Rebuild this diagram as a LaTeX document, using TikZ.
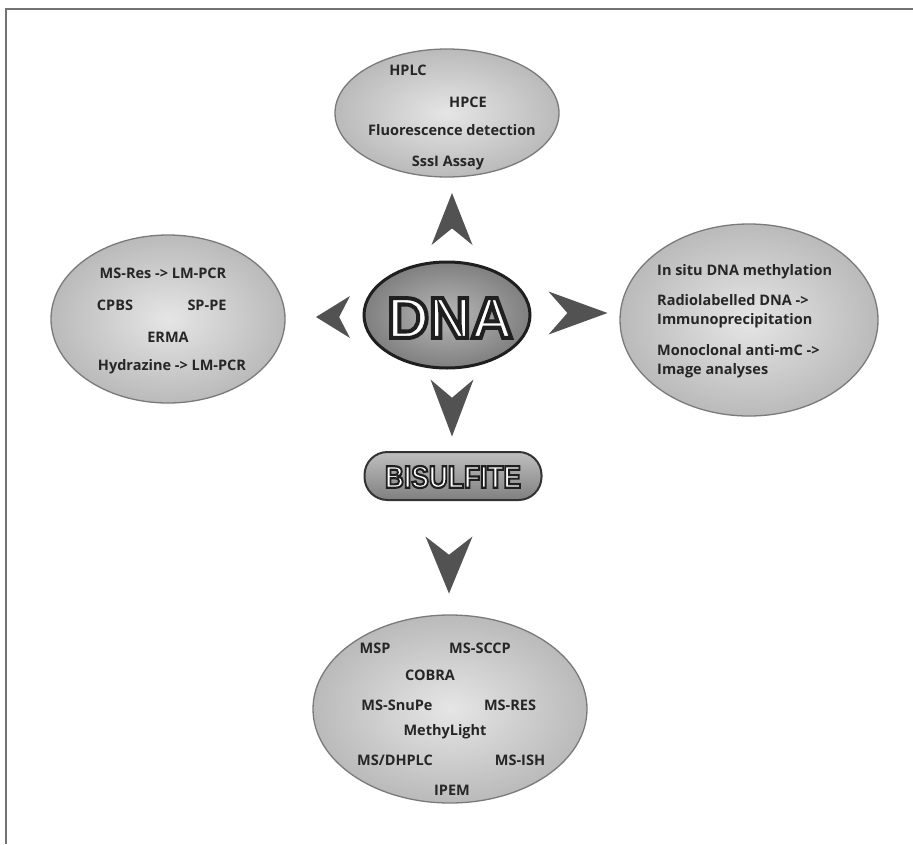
\documentclass[tikz,border=0pt]{standalone}
\usepackage{fontspec}
\setmainfont{Open Sans}
\newfontfamily\logofont{Liberation Sans}
\usetikzlibrary{shapes.geometric}
\newcommand{\outlinedword}[2]{\special{pdf:code q 2 Tr #1 w 0.12 G}#2\special{pdf:code Q}}
\tikzset{
  frameline/.style={draw=black!55, line width=1.4pt},
  bubble/.style={ellipse, draw=black!52, line width=1.3pt, inner sep=0pt,
     inner color=black!10, outer color=black!27},
  lbl/.style={font=\bfseries\fontsize{14.5}{16}\selectfont, text=black!85, inner sep=1pt},
  lblL/.style={lbl, anchor=west},
  chevfill/.style={fill=black!68},
  chev/.pic={\fill[chevfill] (0.5,0) -- (-0.5,-0.5) -- (-0.18,0) -- (-0.5,0.5) -- cycle;},
  dnabox/.style={ellipse, draw=black!88, line width=3pt, inner sep=0pt,
     inner color=black!28, outer color=black!50},
  pill/.style={rectangle, rounded corners=23pt, draw=black!80, line width=2pt, inner sep=0pt,
     top color=black!25, bottom color=black!50},
  dnatext/.style={font=\logofont\bfseries\fontsize{58}{58}\selectfont, inner sep=0pt, text=white},
  bistext/.style={font=\logofont\bfseries\fontsize{31}{31}\selectfont, inner sep=0pt, text=white},
}
\begin{document}
\begin{tikzpicture}[x=1pt,y=-1pt]
\useasboundingbox (0,0) rectangle (913,844);
\fill[white] (0,0) rectangle (913,844);
% frame
\coordinate (fTL) at (6,9);
\coordinate (fTR) at (913,9);
\coordinate (fBL) at (6,844);
\draw[frameline] (fTR) -- (fTL) -- (fBL);

% bubbles
\node[bubble, minimum width=224pt, minimum height=128pt] (top) at (447,113) {};
\node[bubble, minimum width=234pt, minimum height=168pt] (left) at (168,319) {};
\node[bubble, minimum width=258pt, minimum height=192pt] (right) at (749,320) {};
\node[bubble, minimum width=274pt, minimum height=188pt] (bottom) at (450,709) {};

% top texts
\node[lbl] (t1) at (408,70) {HPLC};
\node[lbl] (t2) at (468,102) {HPCE};
\node[lbl] (t3) at (452,130) {Fluorescence detection};
\node[lbl] (t4) at (448,163) {SssI Assay};

% left texts
\node[lbl] (l1) at (163,273) {MS-Res -> LM-PCR};
\node[lbl] (l2) at (115,305) {CPBS};
\node[lbl] (l3) at (207,305) {SP-PE};
\node[lbl] (l4) at (168,337) {ERMA};
\node[lbl] (l5) at (172,367) {Hydrazine -> LM-PCR};

% right texts
\node[lblL] (r1) at (656,272) {In situ DNA methylation};
\node[lblL] (r2) at (656,300) {Radiolabelled DNA ->};
\node[lblL] (r3) at (656,321) {Immunoprecipitation};
\node[lblL] (r4) at (656,350) {Monoclonal anti-mC ->};
\node[lblL] (r5) at (656,371) {Image analyses};

% bottom texts
\node[lbl] (b1) at (375,648) {MSP};
\node[lbl] (b2) at (480,648) {MS-SCCP};
\node[lbl] (b3) at (430,675) {COBRA};
\node[lbl] (b4) at (397,705) {MS-SnuPe};
\node[lbl] (b5) at (510,705) {MS-RES};
\node[lbl] (b6) at (445,732) {MethyLight};
\node[lbl] (b7) at (395,760) {MS/DHPLC};
\node[lbl] (b8) at (520,760) {MS-ISH};
\node[lbl] (b9) at (452,790) {IPEM};

% DNA centre
\node[dnabox, minimum width=166pt, minimum height=106pt] (dna) at (447,315) {};
\node[dnatext] (dnaword) at (450,318) {\outlinedword{4}{DNA}};

% bisulfite
\node[pill, minimum width=177pt, minimum height=48pt] (bis) at (453,476) {};
\node[bistext] (bisword) at (453,477) {\scalebox{0.85}[1]{\outlinedword{2.2}{BISULFITE}}};

% chevrons
\pic[rotate=90, xscale=52, yscale=41] at (452,219) {chev};
\pic[rotate=-90, xscale=57, yscale=43] at (452,408) {chev};
\pic[rotate=-90, xscale=57, yscale=47] at (449,565) {chev};
\pic[xscale=59, yscale=43] at (578,313) {chev};
\pic[rotate=180, xscale=34, yscale=42] at (333,317) {chev};
\end{tikzpicture}
\end{document}
